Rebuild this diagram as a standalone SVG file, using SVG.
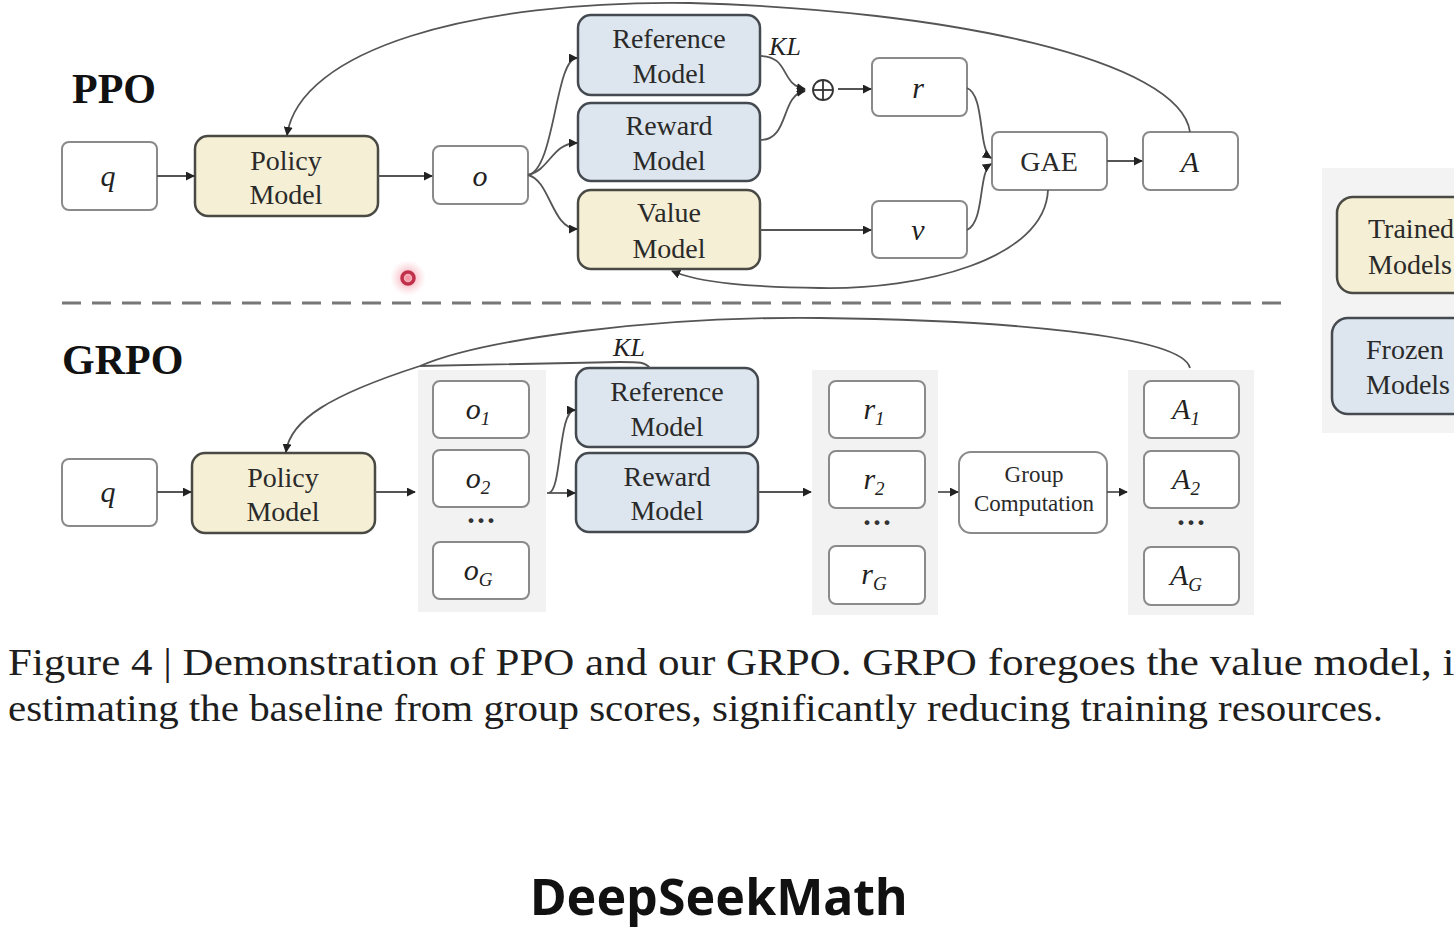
<svg xmlns="http://www.w3.org/2000/svg" width="1454" height="950" viewBox="0 0 1454 950">
<defs>
<marker id="ah" viewBox="0 0 10 10" refX="9" refY="5" markerWidth="9" markerHeight="9" markerUnits="userSpaceOnUse" orient="auto">
<path d="M0,0 L10,5 L0,10 z" fill="#222"/>
</marker>
<radialGradient id="glow">
<stop offset="0" stop-color="#f08090" stop-opacity="0.9"/>
<stop offset="1" stop-color="#f8c0c8" stop-opacity="0"/>
</radialGradient>
<style>
.box{fill:#fff;stroke:#8a8a8a;stroke-width:2}
.trained{fill:#f5efd5;stroke:#4a4a44;stroke-width:2.5}
.frozen{fill:#dde6ee;stroke:#444a50;stroke-width:2.5}
.grp{fill:#f2f2f2;stroke:none}
.t{font-family:"Liberation Serif","DejaVu Serif",serif;font-size:28px;fill:#2a2a2a;text-anchor:middle}
.m{font-family:"Liberation Serif","DejaVu Serif",serif;font-style:italic;font-size:30px;fill:#222;text-anchor:middle}
.sub{font-size:19px}
.h{font-family:"Liberation Serif","DejaVu Serif",serif;font-weight:bold;font-size:42px;fill:#111}
.cap{font-family:"Liberation Serif","DejaVu Serif",serif;font-size:37px;fill:#1e1e1e}
.c{fill:none;stroke:#555;stroke-width:1.8}
.dots{font-family:"Liberation Serif",serif;font-size:30px;font-weight:bold;fill:#333;text-anchor:middle}
</style>
</defs>
<rect width="1454" height="950" fill="#fff"/>

<text class="h" x="72" y="103">PPO</text>
<text class="h" x="62" y="374">GRPO</text>

<line x1="62" y1="303" x2="1282" y2="303" stroke="#777" stroke-width="3" stroke-dasharray="19,11"/>

<!-- legend -->
<g id="legend">
<rect x="1322" y="168" width="150" height="265" fill="#f3f3f3"/>
<g id="leg-trained"><rect class="trained" x="1337" y="197" width="140" height="96" rx="16"/>
<text class="t" x="1368" y="238" style="text-anchor:start">Trained</text>
<text class="t" x="1368" y="274" style="text-anchor:start">Models</text></g>
<g id="leg-frozen"><rect class="frozen" x="1332" y="318" width="145" height="96" rx="16"/>
<text class="t" x="1366" y="359" style="text-anchor:start">Frozen</text>
<text class="t" x="1366" y="394" style="text-anchor:start">Models</text></g>
</g>

<!-- PPO nodes -->
<g id="ppo-q"><rect class="box" x="62" y="142" width="95" height="68" rx="7"/><text class="m" x="108" y="186">q</text></g>
<g id="ppo-policy"><rect class="trained" x="195" y="136" width="183" height="80" rx="13"/><text class="t" x="286" y="170">Policy</text><text class="t" x="286" y="204">Model</text></g>
<g id="ppo-o"><rect class="box" x="433" y="146" width="95" height="58" rx="7"/><text class="m" x="480" y="186">o</text></g>
<g id="ppo-ref"><rect class="frozen" x="578" y="15" width="182" height="80" rx="13"/><text class="t" x="669" y="48">Reference</text><text class="t" x="669" y="83">Model</text></g>
<g id="ppo-reward"><rect class="frozen" x="578" y="103" width="182" height="78" rx="13"/><text class="t" x="669" y="135">Reward</text><text class="t" x="669" y="170">Model</text></g>
<g id="ppo-value"><rect class="trained" x="578" y="190" width="182" height="79" rx="13"/><text class="t" x="669" y="222">Value</text><text class="t" x="669" y="258">Model</text></g>
<g id="ppo-plus"><circle cx="823" cy="90" r="10" fill="none" stroke="#333" stroke-width="1.8"/><line x1="813" y1="90" x2="833" y2="90" stroke="#333" stroke-width="1.8"/><line x1="823" y1="80" x2="823" y2="100" stroke="#333" stroke-width="1.8"/></g>
<g id="ppo-r"><rect class="box" x="872" y="58" width="95" height="58" rx="7"/><text class="m" x="918" y="98">r</text></g>
<g id="ppo-v"><rect class="box" x="872" y="201" width="95" height="57" rx="7"/><text class="m" x="918" y="240">v</text></g>
<g id="ppo-gae"><rect class="box" x="992" y="132" width="115" height="58" rx="7"/><text class="t" x="1049" y="171">GAE</text></g>
<g id="ppo-a"><rect class="box" x="1143" y="132" width="95" height="58" rx="7"/><text class="m" x="1190" y="172">A</text></g>

<!-- GRPO nodes -->
<rect class="grp" x="418" y="370" width="128" height="242"/>
<rect class="grp" x="812" y="370" width="126" height="245"/>
<rect class="grp" x="1128" y="370" width="126" height="245"/>
<g id="grpo-q"><rect class="box" x="62" y="459" width="95" height="67" rx="7"/><text class="m" x="108" y="502">q</text></g>
<g id="grpo-policy"><rect class="trained" x="192" y="453" width="183" height="80" rx="13"/><text class="t" x="283" y="487">Policy</text><text class="t" x="283" y="521">Model</text></g>
<g id="grpo-o"><rect class="box" x="433" y="381" width="96" height="57" rx="7"/><text class="m" x="478" y="419">o<tspan class="sub" dy="6">1</tspan></text>
<rect class="box" x="433" y="450" width="96" height="57" rx="7"/><text class="m" x="478" y="488">o<tspan class="sub" dy="6">2</tspan></text>
<text class="dots" x="481" y="530">···</text>
<rect class="box" x="433" y="542" width="96" height="57" rx="7"/><text class="m" x="478" y="580">o<tspan class="sub" dy="6">G</tspan></text></g>
<g id="grpo-ref"><rect class="frozen" x="576" y="368" width="182" height="79" rx="13"/><text class="t" x="667" y="401">Reference</text><text class="t" x="667" y="436">Model</text></g>
<g id="grpo-reward"><rect class="frozen" x="576" y="453" width="182" height="79" rx="13"/><text class="t" x="667" y="486">Reward</text><text class="t" x="667" y="520">Model</text></g>
<g id="grpo-r"><rect class="box" x="829" y="381" width="96" height="57" rx="7"/><text class="m" x="874" y="419">r<tspan class="sub" dy="6">1</tspan></text>
<rect class="box" x="829" y="451" width="96" height="57" rx="7"/><text class="m" x="874" y="489">r<tspan class="sub" dy="6">2</tspan></text>
<text class="dots" x="877" y="532">···</text>
<rect class="box" x="829" y="546" width="96" height="58" rx="7"/><text class="m" x="874" y="584">r<tspan class="sub" dy="6">G</tspan></text></g>
<g id="grpo-group"><rect class="box" x="959" y="452" width="148" height="81" rx="12"/><text class="t" x="1034" y="482" style="font-size:23px">Group</text><text class="t" x="1034" y="511" style="font-size:23px">Computation</text></g>
<g id="grpo-a"><rect class="box" x="1144" y="381" width="95" height="57" rx="7"/><text class="m" x="1186" y="419">A<tspan class="sub" dy="6">1</tspan></text>
<rect class="box" x="1144" y="451" width="95" height="57" rx="7"/><text class="m" x="1186" y="489">A<tspan class="sub" dy="6">2</tspan></text>
<text class="dots" x="1191" y="532">···</text>
<rect class="box" x="1144" y="547" width="95" height="58" rx="7"/><text class="m" x="1186" y="585">A<tspan class="sub" dy="6">G</tspan></text></g>

<!-- connectors -->
<g id="connectors">
<path class="c" d="M157 176 L194 176" marker-end="url(#ah)"/>
<path class="c" d="M378 176 L432 176" marker-end="url(#ah)"/>
<path class="c" d="M528 175 C555 170, 555 58, 577 58" marker-end="url(#ah)"/>
<path class="c" d="M528 175 C550 170, 552 143, 577 143" marker-end="url(#ah)"/>
<path class="c" d="M528 175 C550 180, 552 229, 577 229" marker-end="url(#ah)"/>
<path class="c" d="M760 56 C790 56, 780 85, 805 89" marker-end="url(#ah)"/>
<path class="c" d="M760 140 C790 140, 780 95, 805 91" marker-end="url(#ah)"/>
<path class="c" d="M838 89 L871 89" marker-end="url(#ah)"/>
<path class="c" d="M967 88 C985 95, 978 150, 991 158" marker-end="url(#ah)"/>
<path class="c" d="M967 230 C985 222, 978 172, 991 164" marker-end="url(#ah)"/>
<path class="c" d="M760 230 L871 230" marker-end="url(#ah)"/>
<path class="c" d="M1107 161 L1142 161" marker-end="url(#ah)"/>
<path class="c" d="M1190 132 C1180 60, 950 10, 690 3 C470 0, 300 50, 287 135" marker-end="url(#ah)"/>
<path class="c" d="M1048 190 C1045 260, 920 290, 820 288 C750 287, 700 283, 672 271" marker-end="url(#ah)"/>

<path class="c" d="M157 492 L191 492" marker-end="url(#ah)"/>
<path class="c" d="M375 492 L415 492" marker-end="url(#ah)"/>
<path class="c" d="M547 493 L575 493" marker-end="url(#ah)"/>
<path class="c" d="M549 493 C562 490, 558 410, 575 410" marker-end="url(#ah)"/>
<path class="c" d="M758 492 L811 492" marker-end="url(#ah)"/>
<path class="c" d="M938 492 L958 492" marker-end="url(#ah)"/>
<path class="c" d="M1107 492 L1127 492" marker-end="url(#ah)"/>
<path class="c" d="M650 368 C645 362, 640 362, 620 362 L420 366"/>
<path class="c" d="M1190 368 C1182 335, 1000 320, 820 318 C650 316, 480 340, 420 366 C330 395, 290 420, 286 452" marker-end="url(#ah)"/>
</g>
<text class="m" x="785" y="55" style="font-size:26px">KL</text>
<text class="m" x="629" y="356" style="font-size:26px">KL</text>

<!-- cursor -->
<circle cx="408" cy="278" r="18" fill="url(#glow)"/>
<circle cx="408" cy="278" r="6" fill="none" stroke="#c0304a" stroke-width="3.5"/>

<text class="cap" x="8" y="675" textLength="1468" lengthAdjust="spacingAndGlyphs">Figure 4 | Demonstration of PPO and our GRPO. GRPO foregoes the value model, in</text>
<text class="cap" x="8" y="721" textLength="1375" lengthAdjust="spacingAndGlyphs">estimating the baseline from group scores, significantly reducing training resources.</text>
<text x="530" y="915" style="font-family:'Noto Sans','DejaVu Sans',sans-serif;font-weight:bold;font-size:50px;fill:#111">DeepSeekMath</text>
</svg>
